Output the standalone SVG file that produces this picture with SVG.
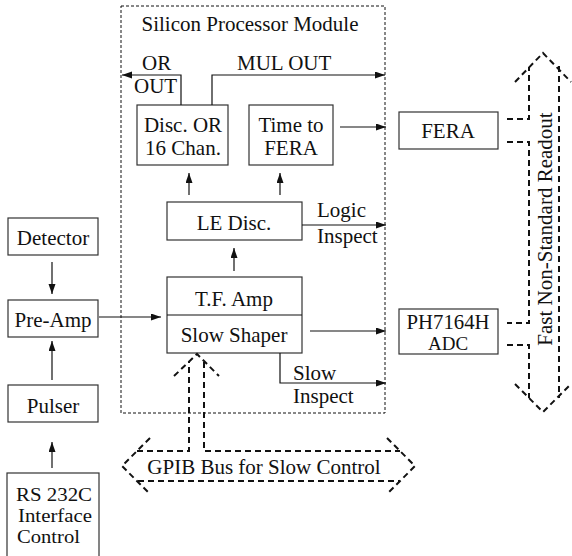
<svg xmlns="http://www.w3.org/2000/svg" width="572" height="556" viewBox="0 0 572 556" font-family="'Liberation Serif', 'DejaVu Serif', 'Times New Roman', serif">
<style>
text{font-family:'Liberation Serif','DejaVu Serif','Times New Roman',serif;font-size:21px;fill:#111}
.m{text-anchor:middle}
.s{font-size:19px}
.box{fill:#fff;stroke:#333;stroke-width:1.2}
.ln{fill:none;stroke:#111;stroke-width:1.2}
.mod{fill:none;stroke:#111;stroke-width:1;stroke-dasharray:3 2}
.bus{fill:none;stroke:#111;stroke-width:2;stroke-dasharray:6 4}
</style>
<defs>
<marker id="ah" markerUnits="userSpaceOnUse" markerWidth="11" markerHeight="8" refX="10" refY="3.5" orient="auto">
<path d="M0,0 L10,3.5 L0,7 z" fill="#111"/>
</marker>
</defs>
<rect id="module" class="mod" x="121" y="6" width="264" height="407"/>
<text class="m" x="250" y="31">Silicon Processor Module</text>

<g id="disc-or"><rect class="box" x="137" y="105" width="91" height="60"/><text class="m" x="183" y="132">Disc. OR</text><text class="m" x="183" y="155">16 Chan.</text></g>
<g id="time-to-fera"><rect class="box" x="249" y="105" width="84" height="60"/><text class="m" x="291" y="132">Time to</text><text class="m" x="291" y="155">FERA</text></g>
<g id="fera"><rect class="box" x="399" y="112" width="99" height="37"/><text class="m" x="448" y="138">FERA</text></g>
<g id="le-disc"><rect class="box" x="167" y="202" width="135" height="38"/><text class="m" x="234" y="230">LE Disc.</text></g>
<g id="tf-amp"><rect class="box" x="167" y="277" width="135" height="76"/><line class="ln" x1="167" y1="315" x2="302" y2="315"/><text class="m" x="234" y="306">T.F. Amp</text><text class="m" x="234" y="342">Slow Shaper</text></g>
<g id="ph7164h"><rect class="box" x="399" y="309" width="99" height="45"/><text class="m" x="448" y="329" textLength="83" lengthAdjust="spacingAndGlyphs">PH7164H</text><text class="m s" x="448" y="350">ADC</text></g>
<g id="detector"><rect class="box" x="8" y="218" width="90" height="37"/><text class="m" x="53" y="245">Detector</text></g>
<g id="pre-amp"><rect class="box" x="8" y="300" width="90" height="37"/><text class="m" x="53" y="327">Pre-Amp</text></g>
<g id="pulser"><rect class="box" x="8" y="385" width="90" height="37"/><text class="m" x="53" y="413">Pulser</text></g>
<g id="rs232c"><rect class="box" x="7" y="473" width="92" height="95"/><text class="s" x="16" y="501" textLength="76" lengthAdjust="spacingAndGlyphs">RS 232C</text><text class="s" x="18" y="522" textLength="74" lengthAdjust="spacingAndGlyphs">Interface</text><text class="s" x="17" y="543" textLength="63" lengthAdjust="spacingAndGlyphs">Control</text></g>

<g id="connectors">
<polyline class="ln" points="181,105 181,75 122,75" marker-end="url(#ah)"/>
<polyline class="ln" points="212,105 212,75 385,75" marker-end="url(#ah)"/>
<line class="ln" x1="340" y1="127" x2="386" y2="127" marker-end="url(#ah)"/>
<line class="ln" x1="189" y1="195" x2="189" y2="173" marker-end="url(#ah)"/>
<line class="ln" x1="280" y1="195" x2="280" y2="173" marker-end="url(#ah)"/>
<line class="ln" x1="302" y1="225" x2="386" y2="225" marker-end="url(#ah)"/>
<line class="ln" x1="234" y1="271" x2="234" y2="248" marker-end="url(#ah)"/>
<line class="ln" x1="99" y1="317" x2="161" y2="317" marker-end="url(#ah)"/>
<line class="ln" x1="310" y1="331" x2="386" y2="331" marker-end="url(#ah)"/>
<polyline class="ln" points="280,353 280,383 386,383" marker-end="url(#ah)"/>
<line class="ln" x1="52" y1="262" x2="52" y2="294" marker-end="url(#ah)"/>
<line class="ln" x1="52" y1="380" x2="52" y2="341" marker-end="url(#ah)"/>
<line class="ln" x1="52" y1="468" x2="52" y2="442" marker-end="url(#ah)"/>
<text x="142" y="70">OR</text>
<text x="134" y="93">OUT</text>
<text x="237" y="70">MUL OUT</text>
<text x="317" y="217">Logic</text>
<text x="317" y="243">Inspect</text>
<text x="293" y="380">Slow</text>
<text x="293" y="403">Inspect</text>
</g>

<g id="gpib-bus">
<polyline class="bus" points="174,376 197,354 219,376"/>
<polyline class="bus" points="137,451 189,451 189,362"/>
<polyline class="bus" points="204,362 204,451 400,451"/>
<line class="bus" x1="138" y1="481" x2="400" y2="481"/>
<polyline class="bus" points="150,438 122,466 150,494"/>
<polyline class="bus" points="387,438 415,466 387,494"/>
<text class="m" x="264" y="474">GPIB Bus for Slow Control</text>
</g>

<g id="readout-bus">
<polyline class="bus" points="515,82 543,53 571,82"/>
<polyline class="bus" points="515,384 543,412 571,384"/>
<polyline class="bus" points="507,119 529,119 529,67"/>
<polyline class="bus" points="507,142 529,142 529,323 507,323"/>
<polyline class="bus" points="507,345 529,345 529,398"/>
<line class="bus" x1="559" y1="66" x2="559" y2="398"/>
<text class="m" transform="translate(552,229) rotate(-90)">Fast Non-Standard Readout</text>
</g>
</svg>
